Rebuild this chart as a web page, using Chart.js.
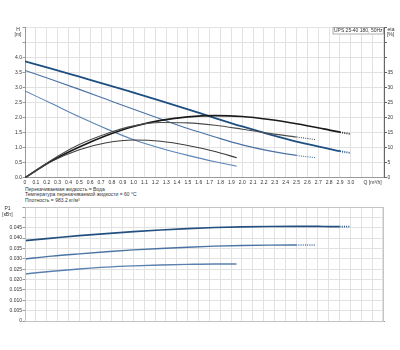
<!DOCTYPE html>
<html><head><meta charset="utf-8">
<script src="https://cdn.jsdelivr.net/npm/chart.js@4/dist/chart.umd.min.js"></script>
<style>
html,body{margin:0;padding:0;background:#fff;width:400px;height:350px;overflow:hidden;font-family:"Liberation Sans",Arial,sans-serif}
#c1{position:absolute;left:0;top:0}
#c2{position:absolute;left:0;top:200px}
#info{position:absolute;left:25px;top:186.5px;font-size:5px;line-height:5.7px;color:#333;white-space:nowrap}
</style></head><body>
<canvas id="c1" width="400" height="186"></canvas>
<div id="info">Перекачиваемая жидкость = Вода<br>Температура перекачиваемой жидкости = 60 °C<br>Плотность = 983.2 кг/м³</div>
<canvas id="c2" width="400" height="150"></canvas>
<script>
// ---- data ----
const q1 = [0,0.25,0.5,0.75,1,1.25,1.5,1.75,2,2.25,2.5,2.75,2.9,3.0];
const q2 = [0,0.25,0.5,0.75,1,1.25,1.5,1.75,2,2.25,2.5,2.68];
const q3 = [0,0.25,0.5,0.75,1,1.25,1.5,1.75,1.95];

const head1 = [3.86,3.61,3.35,3.09,2.82,2.55,2.27,1.98,1.70,1.44,1.20,1.00,0.88,0.82];
const head2 = [3.56,3.25,2.93,2.60,2.27,1.95,1.63,1.35,1.09,0.89,0.74,0.66];
const head3 = [2.88,2.45,2.02,1.62,1.26,0.98,0.74,0.53,0.38];

const eta1 = [0,5.7,10.2,14.0,17.0,19.0,20.2,20.6,20.3,19.3,17.9,16.2,15.1,14.5];
const eta2 = [0,6.0,11.0,14.6,17.2,18.3,18.2,17.4,16.1,14.7,13.5,12.6];
const eta3 = [0,5.5,9.3,11.6,12.5,12.1,10.7,8.7,6.6];

const p1_1 = [0.0388,0.0400,0.0412,0.0422,0.0431,0.0439,0.0446,0.0451,0.0454,0.0456,0.0457,0.0456,0.0455,0.0455];
const p1_2 = [0.0299,0.0313,0.0324,0.0334,0.0343,0.0350,0.0356,0.0361,0.0364,0.0366,0.0367,0.0367];
const p1_3 = [0.0227,0.0240,0.0251,0.0260,0.0266,0.0270,0.0273,0.0275,0.0275];

const xTickLabels = ['0','0.1','0.2','0.3','0.4','0.5','0.6','0.7','0.8','0.9','1.0','1.1','1.2','1.3','1.4','1.5','1.6','1.7','1.8','1.9','2.0','2.1','2.2','2.3','2.4','2.5','2.6','2.7','2.8','2.9','3.0','','Q [m³/h]',''];
const hTickLabels = ['0.0','0.5','1.0','1.5','2.0','2.5','3.0','3.5','4.0','',''];
const etaTickLabels = ['0','5','10','15','20','25','30','35','','',''];
const pTickLabels = ['0','0.005','0.010','0.015','0.020','0.025','0.030','0.035','0.040','0.045','',''];
const legendText = 'UPS 25-40 180, 50Hz';

// ---- helpers ----
const pts = (xs, ys) => xs.map((x, i) => ({x, y: ys[i]}));
const FONT = {family: '"Liberation Sans", Arial, sans-serif', size: 5};
const GRID = '#e2e2e2';
function dashFrom(limit) {
  return { borderDash: ctx => (ctx.p0.parsed.x >= limit - 1e-9 ? [1, 1.2] : undefined) };
}
function line(data, color, width, yAxisID, dash) {
  return {data, borderColor: color, borderWidth: width, pointRadius: 0, yAxisID,
    cubicInterpolationMode: 'monotone', fill: false,
    segment: dash ? dashFrom(dash) : undefined};
}
const xAxis = (showLabels, height) => ({
  type: 'linear', min: 0, max: 3.31,
  afterBuildTicks: s => { s.ticks = xTickLabels.map((_, i) => ({value: i / 10})); },
  afterFit: s => { s.height = height; },
  ticks: {display: showLabels, autoSkip: false, maxRotation: 0, minRotation: 0, padding: 1.5,
    font: FONT, color: '#333', callback: (v, i) => xTickLabels[i]},
  grid: {color: GRID, drawTicks: false},
  border: {color: '#999'}
});

const textPlugin = {
  id: 'texts',
  afterDraw(chart, args, opts) {
    const c = chart.ctx;
    c.save();
    c.font = '5px "Liberation Sans", Arial, sans-serif';
    c.fillStyle = '#333';
    c.textAlign = 'center';
    c.textBaseline = 'middle';
    (opts.items || []).forEach(t => c.fillText(t[0], t[1], t[2]));
    if (opts.box) {
      const a = chart.chartArea;
      const w = 51.5, h = 7.5, x = a.right - w - 0.5, y = a.top;
      c.fillStyle = '#fff';
      c.fillRect(x, y, w, h);
      c.strokeStyle = '#999';
      c.lineWidth = 0.8;
      c.strokeRect(x + 0.5, y + 0.5, w - 1, h - 1);
      c.fillStyle = '#333';
      c.fillText(opts.box, x + w / 2, y + h / 2 + 0.3);
    }
    if (opts.frame) {
      const a = chart.chartArea;
      c.strokeStyle = opts.frame;
      c.lineWidth = 1;
      c.strokeRect(a.left + 0.5, a.top + 0.5, a.right - a.left - 1, a.bottom - a.top);
    }
    c.restore();
  }
};

// ---- top chart: head and efficiency ----
new Chart(document.getElementById('c1'), {
  type: 'line',
  data: {datasets: [
    line(pts(q3, eta3), '#3c3c3c', 1.1, 'yEta'),
    line(pts(q2, eta2), '#4d4d4d', 1.1, 'yEta', 2.5),
    line(pts(q1, eta1), '#1a1a1a', 1.7, 'yEta', 2.9),
    line(pts(q3, head3), '#5b84b6', 1.1, 'yH'),
    line(pts(q2, head2), '#4a72a4', 1.1, 'yH', 2.5),
    line(pts(q1, head1), '#1f4f82', 1.8, 'yH', 2.9)
  ]},
  options: {
    responsive: false, animation: false, events: [],
    layout: {padding: {top: 27, left: 0, right: 0, bottom: 0}},
    plugins: {legend: {display: false}, tooltip: {enabled: false},
      texts: {items: [['H', 18, 29.5], ['[m]', 18, 34.5], ['eta', 391, 29.5], ['[%]', 390.5, 34.5]], box: legendText}},
    scales: {
      x: xAxis(true, 8.3),
      yH: {type: 'linear', position: 'left', min: 0, max: 5,
        afterBuildTicks: s => { s.ticks = hTickLabels.map((_, i) => ({value: i * 0.5})); },
        afterFit: s => { s.width = 25; },
        ticks: {font: FONT, color: '#333', padding: 0.5, callback: (v, i) => hTickLabels[i]},
        grid: {color: GRID, tickLength: 2.5, tickColor: '#999'},
        border: {color: '#999'}},
      yEta: {type: 'linear', position: 'right', min: 0, max: 50,
        afterBuildTicks: s => { s.ticks = etaTickLabels.map((_, i) => ({value: i * 5})); },
        afterFit: s => { s.width = 15.5; },
        ticks: {font: FONT, color: '#333', padding: 0.5, callback: (v, i) => etaTickLabels[i]},
        grid: {drawOnChartArea: false, tickLength: 2.5, tickColor: '#666'},
        border: {color: '#666'}}
    }
  },
  plugins: [textPlugin]
});

// ---- bottom chart: power ----
new Chart(document.getElementById('c2'), {
  type: 'line',
  data: {datasets: [
    line(pts(q3, p1_3), '#5a80b0', 1.4, 'yP'),
    line(pts(q2, p1_2), '#4a72a4', 1.4, 'yP', 2.5),
    line(pts(q1, p1_1), '#24507f', 1.7, 'yP', 2.85)
  ]},
  options: {
    responsive: false, animation: false, events: [],
    layout: {padding: {top: 7, left: 0, right: 16, bottom: 0}},
    plugins: {legend: {display: false}, tooltip: {enabled: false},
      texts: {items: [['P1', 7.5, 8.5], ['[кВт]', 7.5, 15]], frame: '#c4c4c4'}},
    scales: {
      x: xAxis(false, 29),
      yP: {type: 'linear', position: 'left', min: 0, max: 0.055,
        afterBuildTicks: s => { s.ticks = pTickLabels.map((_, i) => ({value: i * 0.005})); },
        afterFit: s => { s.width = 25; },
        ticks: {font: FONT, color: '#333', padding: 0.5, callback: (v, i) => pTickLabels[i]},
        grid: {color: GRID, tickLength: 2.5, tickColor: '#999'},
        border: {color: '#999'}}
    }
  },
  plugins: [textPlugin]
});
</script>
</body></html>
